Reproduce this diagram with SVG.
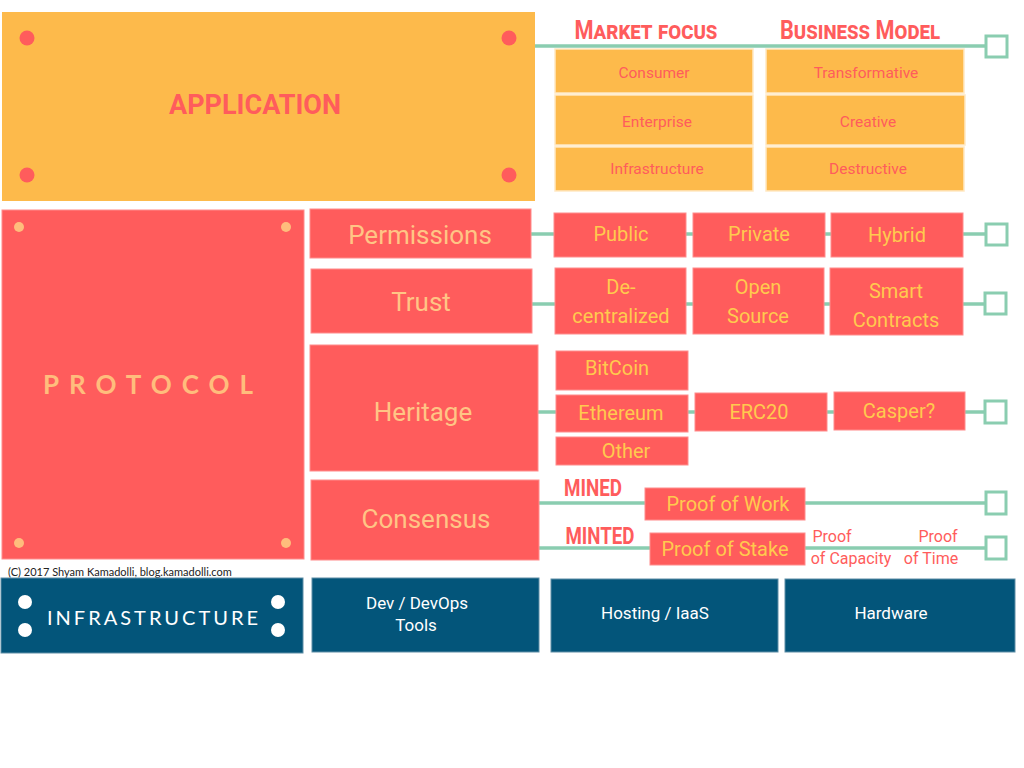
<svg xmlns="http://www.w3.org/2000/svg" width="1024" height="768" viewBox="0 0 1024 768">
<style>
.bg{fill:#ffffff}
.app{fill:#FDBA4B}
.apps{fill:#FDBA4B;stroke:#FFE9C4;stroke-width:1.5}
.red{fill:#FF5C5C;stroke:#FF8C8C;stroke-width:1}
.navy{fill:#03557A;stroke:#5E8EA6;stroke-width:1}
.line{stroke:#8ACDB0;stroke-width:3.5;fill:none}
.sq{fill:#ffffff;stroke:#8ACDB0;stroke-width:3}
text{font-family:"Liberation Sans Narrow","Roboto","DejaVu Sans",sans-serif;text-anchor:middle;dominant-baseline:central}
.t-app{font-size:27px;font-weight:bold;fill:#FF5C5C}
.t-head{font-size:25px;font-weight:bold;fill:#FF5C5C;font-variant:small-caps}
.t-appsub{font-size:15.5px;fill:#FF5C5C}
.t-proto{font-family:"Lato","Inter",sans-serif;font-size:26px;font-weight:bold;fill:#FFBD7C;letter-spacing:10px}
.t-big{font-size:26px;fill:#FFC585}
.t-sub{font-size:20px;fill:#FFCA4E}
.t-mined{font-size:23px;font-weight:bold;fill:#FF5C5C}
.t-small{font-size:16px;fill:#FF5C5C}
.t-infra{font-family:"Lato","Inter",sans-serif;font-size:20px;fill:#ffffff;letter-spacing:3px}
.t-white{font-size:17px;fill:#ffffff}
.t-copy{font-family:"Lato","Liberation Sans",sans-serif;font-size:11px;fill:#222222;text-anchor:start}
.dotr{fill:#FF5C5C}
.doto{fill:#FFBD7C}
.dotw{fill:#ffffff}
</style>
<rect class="bg" x="0" y="0" width="1024" height="768"/>

<g id="connectors">
<line class="line" x1="535" y1="46" x2="986" y2="46"/>
<line class="line" x1="531" y1="234" x2="986" y2="234"/>
<line class="line" x1="532" y1="304" x2="985" y2="304"/>
<line class="line" x1="538" y1="412" x2="985" y2="412"/>
<line class="line" x1="539" y1="503" x2="986" y2="503"/>
<line class="line" x1="539" y1="548" x2="986" y2="548"/>
<rect class="sq" x="986" y="36" width="21" height="21"/>
<rect class="sq" x="986" y="224" width="21" height="21"/>
<rect class="sq" x="985" y="293" width="21" height="21"/>
<rect class="sq" x="985" y="401" width="21" height="22"/>
<rect class="sq" x="986" y="492" width="20" height="22"/>
<rect class="sq" x="986" y="537" width="20" height="22"/>
</g>

<g id="application">
<rect class="app" x="2" y="12" width="533" height="189"/>
<circle class="dotr" cx="27" cy="38" r="7.5"/>
<circle class="dotr" cx="509" cy="38" r="7.5"/>
<circle class="dotr" cx="27" cy="175" r="7.5"/>
<circle class="dotr" cx="509" cy="175" r="7.5"/>
<text class="t-app" x="255" y="105">APPLICATION</text>
</g>

<g id="market-focus">
<text class="t-head" x="646" y="30" textLength="143" lengthAdjust="spacingAndGlyphs">Market focus</text>
<g id="consumer"><rect class="apps" x="555" y="49" width="198" height="44"/><text class="t-appsub" x="654" y="73">Consumer</text></g>
<g id="enterprise"><rect class="apps" x="555" y="95" width="198" height="50"/><text class="t-appsub" x="657" y="122">Enterprise</text></g>
<g id="infrastructure-market"><rect class="apps" x="555" y="147" width="198" height="44"/><text class="t-appsub" x="657" y="169">Infrastructure</text></g>
</g>

<g id="business-model">
<text class="t-head" x="860" y="30" textLength="160" lengthAdjust="spacingAndGlyphs">Business Model</text>
<g id="transformative"><rect class="apps" x="766" y="49" width="198" height="44"/><text class="t-appsub" x="866" y="73">Transformative</text></g>
<g id="creative"><rect class="apps" x="766" y="95" width="199" height="50"/><text class="t-appsub" x="868" y="122">Creative</text></g>
<g id="destructive"><rect class="apps" x="766" y="147" width="198" height="44"/><text class="t-appsub" x="868" y="169">Destructive</text></g>
</g>

<g id="protocol">
<rect class="red" x="2" y="210" width="302" height="349"/>
<circle class="doto" cx="19" cy="227" r="5"/>
<circle class="doto" cx="286" cy="227" r="5"/>
<circle class="doto" cx="19" cy="543" r="5"/>
<circle class="doto" cx="286" cy="543" r="5"/>
<text class="t-proto" x="153" y="384">PROTOCOL</text>
</g>

<g id="permissions">
<rect class="red" x="310" y="209" width="221" height="49"/>
<text class="t-big" x="420" y="235">Permissions</text>
</g>
<g id="public"><rect class="red" x="554" y="213" width="132" height="44"/><text class="t-sub" x="621" y="234">Public</text></g>
<g id="private"><rect class="red" x="693" y="213" width="132" height="44"/><text class="t-sub" x="759" y="234">Private</text></g>
<g id="hybrid"><rect class="red" x="831" y="213" width="132" height="44"/><text class="t-sub" x="897" y="235">Hybrid</text></g>

<g id="trust">
<rect class="red" x="311" y="269" width="221" height="64"/>
<text class="t-big" x="421" y="302">Trust</text>
</g>
<g id="decentralized"><rect class="red" x="555" y="268" width="131" height="66"/><text class="t-sub" x="621" y="287">De-</text><text class="t-sub" x="621" y="316">centralized</text></g>
<g id="open-source"><rect class="red" x="693" y="268" width="131" height="66"/><text class="t-sub" x="758" y="287">Open</text><text class="t-sub" x="758" y="316">Source</text></g>
<g id="smart-contracts"><rect class="red" x="830" y="268" width="133" height="67"/><text class="t-sub" x="896" y="291">Smart</text><text class="t-sub" x="896" y="320">Contracts</text></g>

<g id="heritage">
<rect class="red" x="310" y="345" width="228" height="126"/>
<text class="t-big" x="423" y="412">Heritage</text>
</g>
<g id="bitcoin"><rect class="red" x="556" y="351" width="132" height="39"/><text class="t-sub" x="617" y="368">BitCoin</text></g>
<g id="ethereum"><rect class="red" x="556" y="395" width="132" height="37"/><text class="t-sub" x="621" y="413">Ethereum</text></g>
<g id="other"><rect class="red" x="556" y="437" width="132" height="28"/><text class="t-sub" x="626" y="451">Other</text></g>
<g id="erc20"><rect class="red" x="695" y="393" width="132" height="38"/><text class="t-sub" x="759" y="412">ERC20</text></g>
<g id="casper"><rect class="red" x="834" y="392" width="131" height="38"/><text class="t-sub" x="899" y="411">Casper?</text></g>

<g id="consensus">
<rect class="red" x="311" y="480" width="228" height="80"/>
<text class="t-big" x="426" y="519">Consensus</text>
</g>
<text class="t-mined" x="593" y="488" textLength="58" lengthAdjust="spacingAndGlyphs">MINED</text>
<text class="t-mined" x="600" y="536" textLength="69" lengthAdjust="spacingAndGlyphs">MINTED</text>
<g id="proof-of-work"><rect class="red" x="645" y="488" width="160" height="32"/><text class="t-sub" x="728" y="504">Proof of Work</text></g>
<g id="proof-of-stake"><rect class="red" x="650" y="533" width="155" height="32"/><text class="t-sub" x="725" y="549">Proof of Stake</text></g>
<g id="proof-of-capacity"><text class="t-small" x="832" y="536">Proof</text><text class="t-small" x="851" y="558">of Capacity</text></g>
<g id="proof-of-time"><text class="t-small" x="938" y="536">Proof</text><text class="t-small" x="931" y="558">of Time</text></g>

<text class="t-copy" x="8" y="571">(C) 2017 Shyam Kamadolli, blog.kamadolli.com</text>

<g id="infrastructure">
<rect class="navy" x="1" y="578" width="302" height="75"/>
<circle class="dotw" cx="25" cy="602" r="7"/>
<circle class="dotw" cx="25" cy="630" r="7"/>
<circle class="dotw" cx="278" cy="602" r="7"/>
<circle class="dotw" cx="278" cy="630" r="7"/>
<text class="t-infra" x="154" y="617">INFRASTRUCTURE</text>
</g>
<g id="dev-tools"><rect class="navy" x="312" y="578" width="227" height="74"/><text class="t-white" x="417" y="603">Dev / DevOps</text><text class="t-white" x="416" y="625">Tools</text></g>
<g id="hosting"><rect class="navy" x="551" y="579" width="227" height="73"/><text class="t-white" x="655" y="613">Hosting / IaaS</text></g>
<g id="hardware"><rect class="navy" x="785" y="579" width="230" height="73"/><text class="t-white" x="891" y="613">Hardware</text></g>
</svg>
